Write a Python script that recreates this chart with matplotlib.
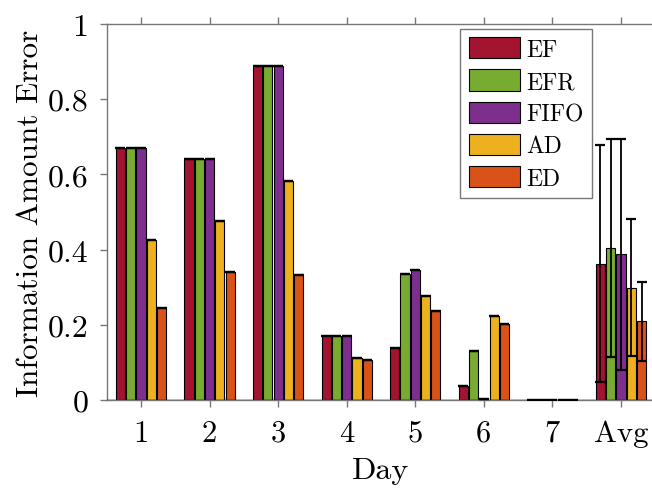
import numpy as np
import matplotlib
matplotlib.use('Agg')
import matplotlib.pyplot as plt

plt.rcParams['font.family'] = ['cmr10', 'DejaVu Serif']
plt.rcParams['mathtext.fontset'] = 'cm'
plt.rcParams['axes.formatter.use_mathtext'] = True

# data
days = ['1', '2', '3', '4', '5', '6', '7', 'Avg']
methods = ['EF', 'EFR', 'FIFO', 'AD', 'ED']
colors = ['#A2142F', '#77AC30', '#7E2F8E', '#EDB120', '#D95319']

ef   = [0.670, 0.640, 0.888, 0.171, 0.138, 0.038, 0.0, 0.363]
efr  = [0.670, 0.640, 0.888, 0.171, 0.335, 0.130, 0.0, 0.404]
fifo = [0.670, 0.640, 0.888, 0.171, 0.346, 0.002, 0.0, 0.387]
ad   = [0.426, 0.476, 0.583, 0.113, 0.277, 0.223, 0.0, 0.299]
ed   = [0.245, 0.341, 0.333, 0.107, 0.238, 0.201, 0.0, 0.209]

# error only on the average group
avg_err = [0.314, 0.290, 0.308, 0.182, 0.106]

series = [ef, efr, fifo, ad, ed]

fig = plt.figure(figsize=(6.52, 4.89), dpi=100)
# axes runs slightly past the right edge like the cropped original
ax = fig.add_axes([106.7/652, 88/489, (655.3-106.7)/652, 376/489])

x = np.arange(1, len(days) + 1)
step = 0.15
width = 0.135

for i, (vals, c, name) in enumerate(zip(series, colors, methods)):
    pos = x + (i - 2) * step
    ax.bar(pos, vals, width, color=c, edgecolor='k', linewidth=0.8, label=name, zorder=2)
    err = [0] * (len(days) - 1) + [avg_err[i]]
    ax.errorbar(pos, vals, yerr=err, fmt='none', ecolor='k', elinewidth=1.3,
                capsize=3.4, capthick=1.6, zorder=3)

ax.axhline(0, color='k', lw=1, zorder=4)

ax.set_xlim(0.5, 8.5)
ax.set_ylim(0, 1)
ax.set_xticks(x)
ax.set_xticklabels(days)
ax.set_yticks([0, 0.2, 0.4, 0.6, 0.8, 1])
ax.set_yticklabels(['0', '0.2', '0.4', '0.6', '0.8', '1'])
ax.tick_params(direction='out', length=5, width=1, color='#777777',
               top=True, right=True, labeltop=False, labelright=False)
ax.tick_params(axis='x', pad=9, labelsize=22)
ax.tick_params(axis='y', pad=8, labelsize=23)
for s in ax.spines.values():
    s.set_color('#777777')
    s.set_linewidth(1)

ax.set_xlabel('Day', fontsize=23, labelpad=7)
ax.set_ylabel('Information Amount Error', fontsize=22.5, labelpad=3)

leg = ax.legend(loc='upper right', bbox_to_anchor=(592/652, 1 - 30/489),
                bbox_transform=fig.transFigure,
                prop={'family': 'cmr10', 'size': 17}, handlelength=2.2,
                handleheight=1.0, labelspacing=0.36, handletextpad=0.25,
                borderpad=0.35, borderaxespad=0, fancybox=False,
                edgecolor='#777777', framealpha=1)
leg.get_frame().set_linewidth(1)
for t in leg.get_texts():
    t.set_fontfamily('cmr10')

plt.savefig('out.png', dpi=100)
